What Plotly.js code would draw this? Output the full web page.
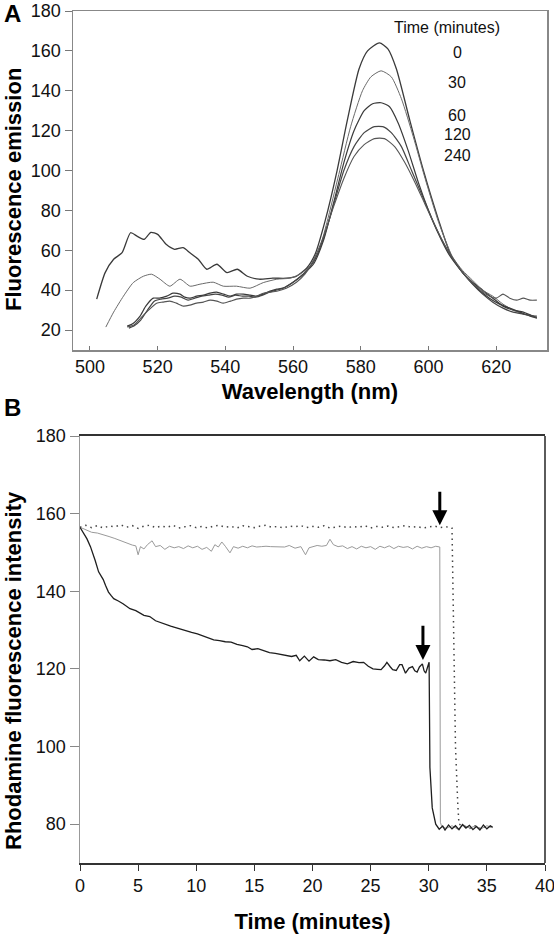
<!DOCTYPE html>
<html>
<head>
<meta charset="utf-8">
<script src="https://cdn.plot.ly/plotly-3.0.1.min.js"></script>
<style>html,body{margin:0;padding:0;background:#fff;}#chart{width:554px;height:935px;}</style>
</head>
<body>
<div id="chart"></div>
<script>
// ---------- Panel A: emission spectra (wavelength nm, fluorescence emission) ----------
const wl0 = [502,504.5,507,509.5,512,514,516,518,520,522.5,525,527.5,529.5,532,534.5,537.5,540.5,543.5,546.5,550,554,558,561,564,566.5,569.5,573,576,579.5,582,585.5,588,590.5,594.5,598.5,603,606.5,610,613,616,619,622,625,628,631,632];
const em0 = [35.5,48.8,55.5,58.8,68.8,67,65.5,69,68,63,60.5,61.3,58.8,55.5,50.5,53,48.8,50.5,47,45.5,46,46,47,51,58,75,100,125,151,160,164,161,151,125,100,75,58,49,44,40,36,32,30,29,27,27];

const wl30 = [504.7,507,509.9,512.8,515.8,518.2,520.7,523.6,526.6,529.6,532.5,536.4,539.4,543.3,547.3,551.2,555.2,559,562,565,567.5,570,573.5,577,580.5,583,586,589,592,595.5,599,603,607,610,613,616,619,622,625,628,631,632];
const em30 = [21.5,29,37,43.8,47,48,45.5,42,45.5,42,43,44,42,42,41,43.8,45.5,46,48,52,59,74,98,122,140,147,150,147,136,117,96,74,57,50,45,40,37,33,30,28,27,26.5];

const wl60 = [511,512.5,514.8,516.5,518.7,520.5,522.7,524.5,526.6,528,529.6,531.5,533.5,535.5,537.4,539.5,541.4,543.3,545.3,547.3,549.2,551.2,553.2,555.2,557,560,563,566,569,572,575,578,581,583.5,586,588.5,591,594,597,600,603,606,609,612,615,618,621,624,627,630,632];
const em60 = [22,23,27,32,36,36,37,38.5,38,36.5,36,37,37.5,38.5,39,38,37,38,38,37.5,37,38,39.5,40.5,41,44,48,53,65,84,104,120,130,133.5,134,132,124,110,94,80,68,58,51,45,40,36,33,31,29,27,26];

const wl120 = [511.5,513,515,517,519,521,523,525,527,529,531,533,535,537,539,541,543,545,547,549,551,553,555,557,560,563,566,569,572,575,578,581,584,586.5,589,592,595,598,601,604,607,610,613,616,619,622,625,628,631,632];
const em120 = [21,22,25,30,34.5,35.5,36,37,36.5,35,36,37,37.5,38,37.5,36.5,37.5,37,37,36.5,37.5,39,40,41,44,48,54,66,83,100,112,119,122,122,119,112,100,88,76,65,56,49,43,38,34,31,29,28,27,26];

const wl240 = [511,513,515,517,519.7,521.5,523.6,525.5,527.6,529.5,531.5,533.5,535.5,537.5,539.4,541.5,543.3,545.3,547.3,549.2,551.2,553.2,555.2,558,561,563.5,566,569,572,575,578,581,584,587,590,593,596,599,602,605,608,611,614,617,620,622,624,626,628,630,632];
const em240 = [21.5,22.5,26,29.5,33.5,34,34.5,33.5,32,32.5,33.5,34,35,34.5,33.5,34.5,35.5,36,36,37,38.5,39,39.5,41,44,48,55,67,82,96,107,113,116,116,112,104,94,83,72,62,54,47,42,38,36,38,36,35,36,35,35];

const legendTitle = "Time (minutes)";
const timeLabels = ["0","30","60","120","240"];

// ---------- Panel B: rhodamine fluorescence vs time ----------
const tDark = [0,0.3,0.6,0.9,1.1,1.3,1.6,1.8,2.0,2.2,2.45,2.7,2.9,3.3,3.7,4.3,4.8,5.5,6.0,6.5,7.2,7.8,8.3,8.6,9.2,9.6,10.1,10.5,11,11.5,12,12.5,13,13.5,14,14.4,14.8,15.3,15.8,16.3,16.8,17.2,17.7,18.2,18.6,18.9,19.3,19.7,20.1,20.5,21,21.5,22,22.5,23,23.5,24,24.4,24.8,25.2,25.6,25.9,26.2,26.4,26.7,26.9,27.2,27.5,27.7,28.0,28.3,28.6,28.8,29.0,29.2,29.45,29.6,29.74,29.9,30.03,30.1,30.3,30.6,30.9,31.2,31.4,31.7,32,32.3,32.6,32.9,33.2,33.5,33.8,34.1,34.4,34.7,35,35.3,35.5];
const vDark = [156.5,155,153.5,151.5,150,148,145,144,143,141.5,139.8,138.8,138.1,137.5,136.8,135.5,135,133.8,133.5,132.4,131.6,131,130.6,130.3,129.8,129.4,129,128.6,128.2,127.5,127.3,127,126.9,126.3,126,125.7,125,125.2,124.7,124.2,124,123.8,123.4,123.2,123.5,122.1,123.3,122,123.1,122.4,122.3,122.1,122.4,121.7,121.3,121.9,121.6,121.7,120.7,120,119.9,119.8,120.8,121.7,120.5,119.8,119.6,121.1,121.1,118.9,120.2,120.6,119.5,119.2,120.5,121.3,119.5,118.9,120.5,121.7,94.6,84.2,80,78.7,79.5,78.5,79.8,78.8,79.6,78.6,79.9,79,79.7,78.6,79.4,78.5,79.8,78.8,79.6,79.2];

const tGray = [0,0.5,1,1.5,2,2.5,3,3.5,4,4.5,4.8,5.0,5.2,5.5,5.8,6.2,6.5,6.9,7.3,7.7,8.1,8.5,8.9,9.3,9.7,10.1,10.5,10.9,11.3,11.6,11.9,12.2,12.5,12.9,13.2,13.6,14,14.4,14.8,15.2,15.6,16,16.4,16.8,17.2,17.6,18.0,18.5,19.0,19.4,19.7,20,20.4,20.8,21.2,21.5,21.8,22.2,22.6,23,23.4,23.8,24.2,24.6,25,25.4,25.8,26.2,26.6,27,27.4,27.8,28.2,28.6,29,29.4,29.8,30.2,30.6,30.95,31.0,31.1,31.5,32,32.5,33,33.5,34,34.5,35,35.5];
const vGray = [156.5,155.8,155.2,155,154.6,154.1,153.6,153,152.4,151.9,151.7,149.4,151.5,150.9,152,153,151.5,151.8,150.8,151.6,151.2,151.5,151,151.7,151.2,151.6,150.8,151.3,150.3,152,151.4,152.7,151.6,149.9,151.5,151.1,151.6,151.2,151.7,151.4,151.5,151.6,151.5,151.5,151.5,151.4,151.8,151.1,151.5,149.4,151.2,151.5,151.8,151.6,151.8,153.4,152,151.5,151.7,151,151.5,150.9,151.6,151.2,151.5,150.8,151.6,151.2,151.7,151,151.6,151.3,151.5,150.9,151.6,151.1,151.5,151.2,151.6,151.4,80.5,79.5,78.9,79.6,78.7,79.8,79,79.5,78.8,79.6,79.1];

const tDot = [0,0.5,1,1.5,2,2.5,3,3.5,4,4.5,5,5.5,6,6.5,7,7.5,8,8.5,9,9.5,10,10.5,11,11.5,12,12.5,13,13.5,14,14.5,15,15.5,16,16.5,17,17.5,18,18.5,19,19.5,20,20.5,21,21.5,22,22.5,23,23.5,24,24.5,25,25.5,26,26.5,27,27.5,28,28.5,29,29.5,30,30.5,31,31.5,32,32.1,32.2,32.3,32.5,32.6,33,33.5,34,34.5,35,35.5];
const vDot = [156.5,157,156.4,156.9,156.3,156.8,156.6,157.1,156.5,156.9,156.2,156.8,157,156.4,156.8,156.5,157,156.3,156.6,156.9,156.4,156.7,156.3,156.8,157,156.5,156.7,156.3,156.9,156.6,156.4,156.8,157,156.5,156.7,156.3,156.8,156.6,156.9,156.4,156.7,156.5,156.9,156.3,156.6,156.8,156.4,156.7,156.5,156.9,156.3,156.7,156.5,156.8,156.4,156.6,156.9,156.5,156.7,156.3,156.6,156.8,156.4,156.6,156.3,140,120,100,85,80,79.5,78.9,79.6,78.8,79.5,79.3];

// arrows: [time, tail value, tip value]
const arrow1 = [30.95, 166, 157];
const arrow2 = [29.5, 131.5, 122.3];

const FONT = "Liberation Sans, Arial, sans-serif";
const W = 554, H = 935;

const specLine = (x, y, color, w) => ({x: x, y: y, type: "scatter", mode: "lines", xaxis: "x", yaxis: "y",
  line: {color: color, width: w, shape: "spline", smoothing: 0.6}, hoverinfo: "skip", showlegend: false});

const traces = [
  specLine(wl0, em0, "#3a3a3a", 1.3),
  specLine(wl30, em30, "#6a6a6a", 1.0),
  specLine(wl60, em60, "#3a3a3a", 1.2),
  specLine(wl120, em120, "#454545", 1.2),
  specLine(wl240, em240, "#555555", 1.1),
  {x: tDot, y: vDot, type: "scatter", mode: "lines", xaxis: "x2", yaxis: "y2",
   line: {color: "#444", width: 1.5, dash: "1.5px,4px"}, showlegend: false},
  {x: tGray, y: vGray, type: "scatter", mode: "lines", xaxis: "x2", yaxis: "y2",
   line: {color: "#9a9a9a", width: 1}, showlegend: false},
  {x: tDark, y: vDark, type: "scatter", mode: "lines", xaxis: "x2", yaxis: "y2",
   line: {color: "#1e1e1e", width: 1.3}, showlegend: false}
];

const px = (x) => x / W;
const py = (y) => 1 - y / H;

const lab = (text, x, y, size) => ({text: text, xref: "paper", yref: "paper", x: px(x), y: py(y),
  xanchor: "center", yanchor: "middle", showarrow: false, font: {family: FONT, size: size, color: "#111"}});

const annotations = [
  {text: "<b>A</b>", xref: "paper", yref: "paper", x: px(12), y: py(13), xanchor: "center", yanchor: "middle", showarrow: false, font: {family: FONT, size: 24, color: "#000"}},
  {text: "<b>B</b>", xref: "paper", yref: "paper", x: px(12), y: py(408), xanchor: "center", yanchor: "middle", showarrow: false, font: {family: FONT, size: 24, color: "#000"}},
  lab(legendTitle, 447, 27, 16),
  lab(timeLabels[0], 457, 53, 16),
  lab(timeLabels[1], 457, 83, 16),
  lab(timeLabels[2], 457, 115, 16),
  lab(timeLabels[3], 457, 134, 16),
  lab(timeLabels[4], 457, 155, 16),
  {text: "<b>Fluorescence emission</b>", xref: "paper", yref: "paper", x: px(13), y: py(190), textangle: -90,
   xanchor: "center", yanchor: "middle", showarrow: false, font: {family: FONT, size: 22, color: "#000"}},
  {text: "<b>Rhodamine fluorescence intensity</b>", xref: "paper", yref: "paper", x: px(13), y: py(671), textangle: -90,
   xanchor: "center", yanchor: "middle", showarrow: false, font: {family: FONT, size: 22, color: "#000"}},
  {text: "", xref: "x2", yref: "y2", axref: "x2", ayref: "y2", x: arrow1[0], y: arrow1[2], ax: arrow1[0], ay: arrow1[1],
   showarrow: true, arrowhead: 2, arrowsize: 1, arrowwidth: 3, arrowcolor: "#000", standoff: 0},
  {text: "", xref: "x2", yref: "y2", axref: "x2", ayref: "y2", x: arrow2[0], y: arrow2[2], ax: arrow2[0], ay: arrow2[1],
   showarrow: true, arrowhead: 2, arrowsize: 1, arrowwidth: 3, arrowcolor: "#000", standoff: 0}
];

const tickFont = {family: FONT, size: 18, color: "#111"};
const titleFont = {family: FONT, size: 22, color: "#000"};

const layout = {
  width: W, height: H,
  margin: {l: 0, r: 0, t: 0, b: 0},
  paper_bgcolor: "#fff", plot_bgcolor: "#fff",
  font: {family: FONT},
  showlegend: false,
  xaxis: {domain: [px(73), px(547)], range: [495, 635], anchor: "y",
    tickvals: [500,520,540,560,580,600,620], ticks: "inside", ticklen: 4, tickcolor: "#777",
    showline: true, linecolor: "#888", linewidth: 1.5, mirror: true, showgrid: false, zeroline: false,
    tickfont: tickFont, title: {text: "<b>Wavelength (nm)</b>", font: titleFont, standoff: 7}},
  yaxis: {domain: [py(350), py(11)], range: [10, 180], anchor: "x",
    tickvals: [20,40,60,80,100,120,140,160,180], ticks: "outside", ticklen: 7, tickcolor: "#777",
    showline: true, linecolor: "#888", linewidth: 1.5, mirror: true, showgrid: false, zeroline: false,
    tickfont: tickFont},
  xaxis2: {domain: [px(80), px(545)], range: [0, 40], anchor: "y2",
    tickvals: [0,5,10,15,20,25,30,35,40], ticks: "outside", ticklen: 6, tickcolor: "#333",
    ticklabeloverflow: "allow",
    showline: true, linecolor: "#333", linewidth: 1.6, mirror: true, showgrid: false, zeroline: false,
    tickfont: tickFont, title: {text: "<b>Time (minutes)</b>", font: titleFont, standoff: 18}},
  yaxis2: {domain: [py(863), py(436)], range: [70, 180], anchor: "x2",
    tickvals: [80,100,120,140,160,180], ticks: "outside", ticklen: 9, tickcolor: "#888",
    showline: true, linecolor: "#999", linewidth: 1.5, mirror: false, showgrid: false, zeroline: false,
    tickfont: tickFont},
  shapes: [
    {type: "line", xref: "x2 domain", yref: "y2 domain", x0: 1, x1: 1, y0: 0, y1: 1, line: {color: "#333", width: 1.6}}
  ],
  annotations: annotations
};

Plotly.newPlot("chart", traces, layout, {displayModeBar: false, staticPlot: true});
</script>
</body>
</html>
